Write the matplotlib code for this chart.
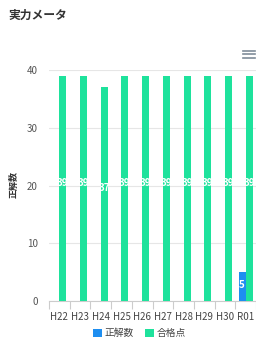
import matplotlib
matplotlib.use("Agg")
import matplotlib.pyplot as plt
from matplotlib.patches import Patch
from matplotlib.lines import Line2D
import numpy as np

plt.rcParams['font.family'] = ['Noto Sans CJK JP', 'DejaVu Sans']

categories = ["H22", "H23", "H24", "H25", "H26", "H27", "H28", "H29", "H30", "R01"]
correct = [0, 0, 0, 0, 0, 0, 0, 0, 0, 5]
passing = [39, 39, 37, 39, 39, 39, 39, 39, 39, 39]
series_names = ["正解数", "合格点"]
colors = ["#1E8EF0", "#1EE29C"]
y_ticks = [0, 10, 20, 30, 40]

fig = plt.figure(figsize=(2.56, 3.47), dpi=100)
ax = fig.add_axes([49/256, 1-301/347, 207/256, (301-70)/347])

x = np.arange(len(categories))
w = 0.34
ax.bar(x - w/2, correct, width=w, color=colors[0], zorder=3)
ax.bar(x + w/2, passing, width=w, color=colors[1], zorder=3)

for xi, v in zip(x, correct):
    if v > 0:
        ax.text(xi - w/2, v/2 + 0.3, str(v), ha='center', va='center', color='white',
                fontsize=7, fontweight='bold', zorder=4)
for xi, v in zip(x, passing):
    if v > 0:
        ax.text(xi + w/2, v/2 + 1.0, str(v), ha='center', va='center', color='white',
                fontsize=7, fontweight='bold', zorder=4)

ax.set_xlim(-0.5, len(categories) - 0.5)
ax.set_ylim(0, 40)
ax.set_yticks(y_ticks)
ax.set_yticklabels([str(t) for t in y_ticks], fontsize=7, color='#555555')
ax.set_xticks(x)
ax.set_xticklabels(categories, fontsize=7, color='#444444')
ax.tick_params(axis='y', length=0, pad=8)
ax.tick_params(axis='x', length=0, pad=8)
ax.set_xticks(np.arange(-0.5, len(categories)), minor=True)
ax.tick_params(axis='x', which='minor', length=6, color='#cccccc', width=0.8)
for s in ['top', 'right', 'left']:
    ax.spines[s].set_visible(False)
ax.spines['bottom'].set_color('#cccccc')
ax.spines['bottom'].set_linewidth(0.8)
ax.grid(axis='y', color='#e6e6e6', linewidth=0.8, zorder=0)
ax.set_axisbelow(True)

fig.text(14/256, 1-185/347, "正解数", rotation=90, ha='center', va='center',
         fontsize=6.5, fontweight='bold', color='#333333')

fig.text(8/256, 1-15/347, "実力メータ", ha='left', va='center',
         fontsize=8.5, fontweight='bold', color='#333333')

# hamburger menu icon
for yy in [50.5, 54, 57.5]:
    fig.add_artist(Line2D([243/256, 255/256], [1-yy/347, 1-yy/347],
                          color='#7f8c99', linewidth=1.2))

handles = [Patch(facecolor=colors[0], edgecolor='none'),
           Patch(facecolor=colors[1], edgecolor='none')]
fig.legend(handles, series_names, loc='center', bbox_to_anchor=(0.545, 1-333/347),
           ncol=2, frameon=False, fontsize=7, handlelength=0.9, handleheight=0.9,
           handletextpad=0.3, columnspacing=1.2, labelcolor='#444444')

fig.savefig("out.png", dpi=100, facecolor='white')
